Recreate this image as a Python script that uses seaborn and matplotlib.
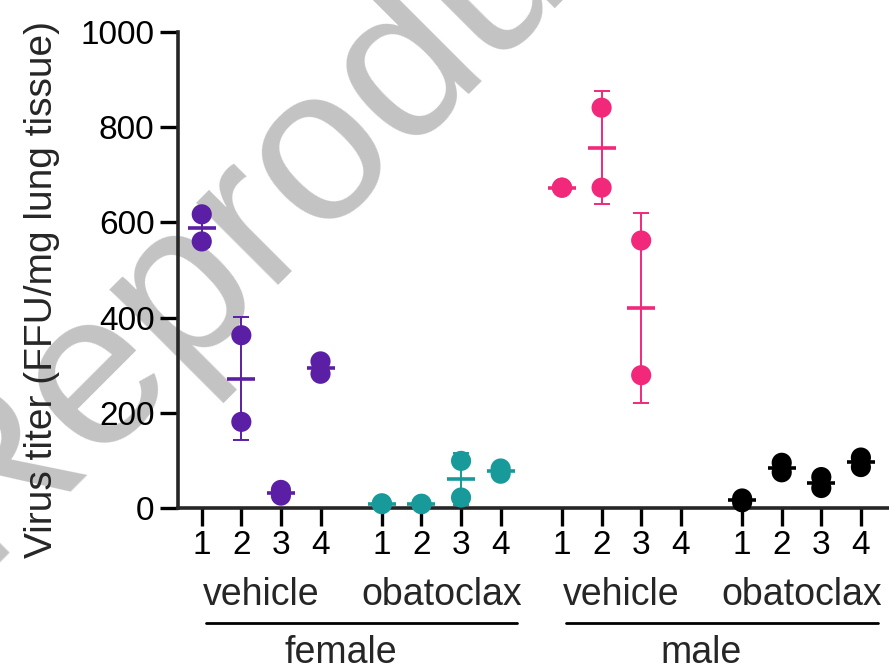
import matplotlib
matplotlib.use('Agg')
import matplotlib.pyplot as plt
import seaborn as sns
import numpy as np
import pandas as pd

# Virus titer per mouse (two lung samples each)
sexes = ['female', 'male']
treatments = ['vehicle', 'obatoclax']
mice = ['1', '2', '3', '4']
femaleVehicle = [[617, 560], [363, 181], [38, 26], [308, 282]]
femaleObatoclax = [[10, 8], [9, 8], [99, 22], [83, 72]]
maleVehicle = [[673, 673], [841, 673], [562, 279], []]
maleObatoclax = [[20, 12], [95, 75], [65, 42], [106, 86]]
groupColors = ['#5b1fa6', '#189a9a', '#f2287b', '#000000']

groupStep = 4.55

sns.set_theme(style='ticks')
plt.rcParams['font.family'] = ['Liberation Sans', 'DejaVu Sans']

# build a long table
rows = []
groups = [femaleVehicle, femaleObatoclax, maleVehicle, maleObatoclax]
positions = []
for g, groupVals in enumerate(groups):
    for m, vals in enumerate(groupVals):
        pos = g * groupStep + m
        positions.append(pos)
        for v in vals:
            rows.append({'group': g, 'pos': pos, 'titer': v})
df = pd.DataFrame(rows)

fig = plt.figure(figsize=(8.89, 6.71), dpi=100)
fig.patch.set_facecolor('white')
ax = fig.add_axes([178 / 889, 163 / 671, 711 / 889, 476 / 671])
ax.patch.set_visible(False)

# watermark behind everything
fig.text(-22 / 889, 1 - 567 / 671, 'Reproduction', fontsize=158, color='#c3c3c3',
         rotation=45, rotation_mode='anchor', ha='left', va='baseline', zorder=-1)

# mean and SD per mouse
stats = df.groupby(['group', 'pos'])['titer'].agg(['mean', 'std']).reset_index()
for _, r in stats.iterrows():
    c = groupColors[int(r['group'])]
    ax.errorbar(r['pos'], r['mean'], yerr=r['std'], fmt='none', ecolor=c,
                elinewidth=1.4, capsize=5.8, capthick=1.4, zorder=2, clip_on=False)
    ax.scatter(r['pos'], r['mean'], marker='_', s=19.5 ** 2, linewidths=2.6,
               color=c, zorder=2, clip_on=False)

sns.stripplot(data=df, x='pos', y='titer', hue='group', palette=groupColors,
              native_scale=True, jitter=False, size=14.5, linewidth=0, legend=False,
              ax=ax, zorder=3, clip_on=False)

ax.set_xlim(-0.6, 17.36)
ax.set_ylim(0, 1000)
ax.set_xticks(positions)
ax.set_xticklabels(mice * 4)
ax.set_yticks(range(0, 1001, 200))
ax.set_xlabel('')
ax.set_ylabel('')
sns.despine(ax=ax)
for s in ['left', 'bottom']:
    ax.spines[s].set_linewidth(2.6)
ax.tick_params(length=13, width=2.4, labelsize=24, colors='black')
ax.tick_params(axis='x', pad=3)
ax.tick_params(axis='y', pad=4)

# group labels under the axis
trans = ax.get_xaxis_transform()
for g in range(4):
    ax.text(g * groupStep + 1.5, -0.204, treatments[g % 2], fontsize=27,
            ha='center', va='baseline', transform=trans)
for s, sex in enumerate(sexes):
    start = 2 * s * groupStep
    end = start + groupStep + 3
    ax.plot([start + 0.1, end + 0.42], [-0.242, -0.242], color='black', lw=2,
            transform=trans, clip_on=False)
    ax.text((start + end) / 2 - 0.25, -0.326, sex, fontsize=27,
            ha='center', va='baseline', transform=trans)

fig.text(42 / 889, 1 - 289 / 671, 'Virus titer (FFU/mg lung tissue)', fontsize=28,
         rotation=90, ha='center', va='center')

fig.savefig('out.png', dpi=100)
